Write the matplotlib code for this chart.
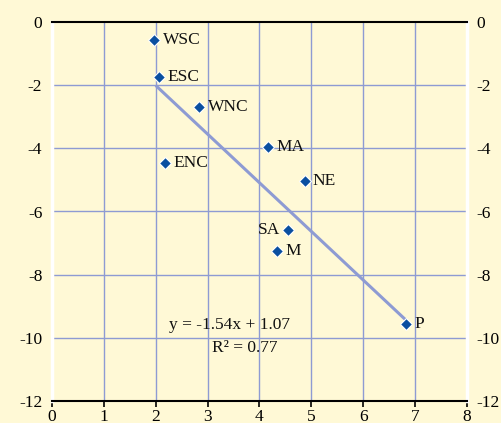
"""
Regional scatter with fitted trend line (Excel-style chart).
"""

import matplotlib.pyplot as plt

# ------------------------------------------------------------------
# Data
# ------------------------------------------------------------------
regions = ["WSC", "ESC", "WNC", "ENC", "MA", "NE", "SA", "M", "P"]
x_vals = [1.97, 2.06, 2.84, 2.18, 4.16, 4.87, 4.55, 4.34, 6.82]
y_vals = [-0.57, -1.73, -2.69, -4.48, -3.96, -5.02, -6.58, -7.24, -9.56]

slope = -1.54
intercept = 1.07
r_squared = 0.77
fit_x = [2.0, 6.82]

x_ticks = [0, 1, 2, 3, 4, 5, 6, 7, 8]
y_ticks = [0, -2, -4, -6, -8, -10, -12]

# ------------------------------------------------------------------
# Style
# ------------------------------------------------------------------
bg = "#FFF9D6"
grid_col = "#8E9BD3"
point_col = "#0A4FA0"
plt.rcParams["font.family"] = ["Liberation Serif", "DejaVu Serif"]
plt.rcParams["font.size"] = 12.5

fig = plt.figure(figsize=(5.02, 4.23), dpi=100, facecolor=bg)
ax = fig.add_axes([0.1036, 0.052, 0.8266, 0.896], facecolor=bg)

# grid
for xv in x_ticks[1:-1]:
    ax.axvline(xv, color=grid_col, lw=1.0, zorder=1)
for yv in y_ticks[1:-1]:
    ax.axhline(yv, color=grid_col, lw=1.0, zorder=1)

# trend line
fit_y = [slope * v + intercept for v in fit_x]
ax.plot(fit_x, fit_y, color=grid_col, lw=2.2, zorder=2, solid_capstyle="butt")

# points
ax.plot(x_vals, y_vals, linestyle="none", marker="D", markersize=6,
        color=point_col, markeredgecolor="white", markeredgewidth=0.8, zorder=3)

for name, xv, yv in zip(regions, x_vals, y_vals):
    if name == "SA":
        ax.annotate(name, (xv, yv), xytext=(-6, 0), textcoords="offset points",
                    ha="right", va="center", color="#111111")
    else:
        ax.annotate(name, (xv, yv), xytext=(6, 0), textcoords="offset points",
                    ha="left", va="center", color="#111111")

# equation
ax.text(3.43, -9.59, f"y = {slope:.2f}x + {intercept:.2f}", ha="center",
        va="center", color="#111111")
ax.text(3.72, -10.32, f"R\u00b2 = {r_squared:.2f}", ha="center",
        va="center", color="#111111")

# axes
ax.set_xlim(0, 8)
ax.set_ylim(-12, 0)
ax.set_xticks(x_ticks)
ax.set_yticks(y_ticks)
ax.set_yticklabels([str(v) for v in y_ticks])
ax.tick_params(axis="x", direction="out", length=4, width=1.2, pad=2,
               colors="black")
ax.tick_params(axis="y", length=0, pad=7, labelright=True, right=False)

ax.spines["top"].set_color("black")
ax.spines["top"].set_linewidth(1.5)
ax.spines["bottom"].set_color("black")
ax.spines["bottom"].set_linewidth(1.5)
for side in ("left", "right"):
    ax.spines[side].set_color("white")
    ax.spines[side].set_linewidth(2.5)

fig.savefig("out.png", dpi=100, facecolor=bg)
plt.close(fig)
